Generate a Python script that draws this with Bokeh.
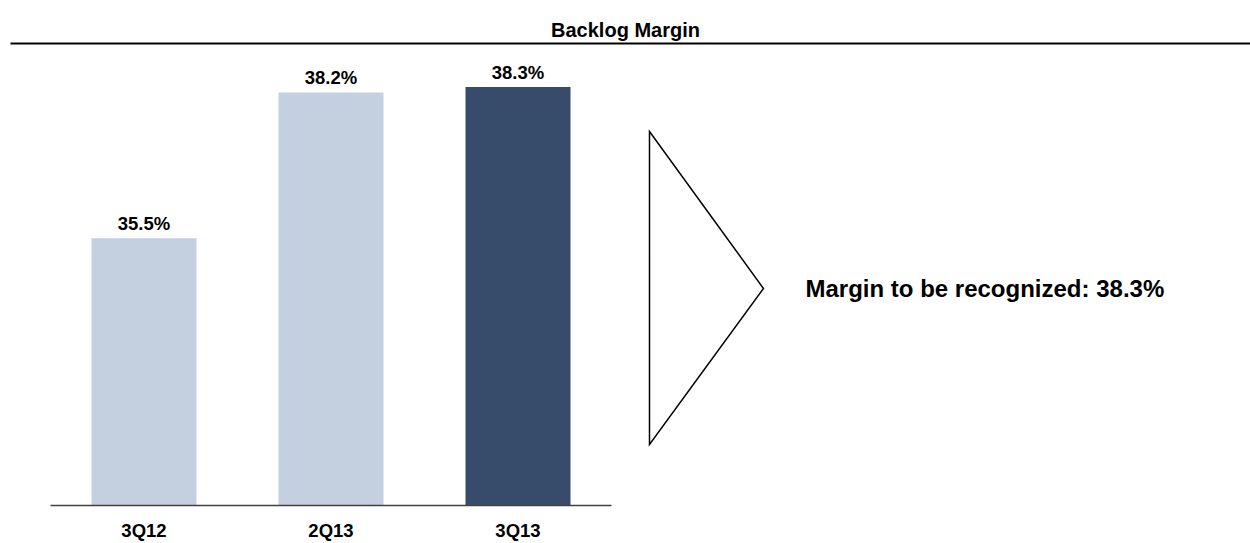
from bokeh.plotting import figure
from bokeh.models import Range1d, ColumnDataSource
from bokeh.core.properties import value
from bokeh.embed import file_html
from bokeh.resources import INLINE

# --- data -------------------------------------------------------------
quarters = ["3Q12", "2Q13", "3Q13"]
backlog_margin = [35.5, 38.2, 38.3]
bar_colors = ["#C4CFE0", "#C4CFE0", "#374C6B"]
title_text = "Backlog Margin"
callout_prefix = "Margin to be recognized: "

# --- canvas geometry ---------------------------------------------------
W, H = 1250, 543
SLOT = 187.0          # pixels per category slot
FIRST = 143.5         # pixel centre of the first category
BASE_PX = 505.0       # pixel row of the bar baseline
PX_PER_PCT = 54.0     # vertical pixels per percentage point
FLOOR = 30.55         # value axis starts here (bars sit on it)

def xu(px):
    return (px - FIRST) / SLOT

def yu(py):
    return FLOOR + (BASE_PX - py) / PX_PER_PCT

FONT = value("Liberation Sans")
LABEL_SIZE = value("18.5px")

p = figure(width=W, height=H, output_backend="svg", toolbar_location=None,
           x_range=Range1d(xu(0), xu(W)), y_range=Range1d(yu(H), yu(0)),
           min_border=0, min_border_left=0, min_border_right=0,
           min_border_top=0, min_border_bottom=0)
p.axis.visible = False
p.grid.visible = False
p.outline_line_color = None
p.background_fill_color = "white"
p.border_fill_color = "white"

idx = list(range(len(quarters)))
src = ColumnDataSource(dict(
    x=idx, top=backlog_margin, color=bar_colors, q=quarters,
    label=[f"{v:.1f}%" for v in backlog_margin],
    base=[FLOOR] * len(quarters),
))

# bars
p.vbar(x="x", top="top", bottom=FLOOR, width=105 / SLOT, color="color",
       line_color=None, source=src)

# baseline under the bars
p.segment(x0=[-0.5], y0=[FLOOR], x1=[len(quarters) - 0.5], y1=[FLOOR],
          line_color="#404040", line_width=1.5)

# value labels above bars
p.text(x="x", y="top", text="label", source=src, y_offset=-15,
       text_align="center", text_baseline="middle",
       text_font=FONT, text_font_size=LABEL_SIZE, text_font_style="bold",
       text_color="black")

# category labels below the baseline
p.text(x="x", y="base", text="q", source=src, y_offset=25,
       text_align="center", text_baseline="middle",
       text_font=FONT, text_font_size=LABEL_SIZE, text_font_style="bold",
       text_color="black")

# title and rule
p.text(x=[xu(W / 2)], y=[yu(29)], text=[title_text],
       text_align="center", text_baseline="middle",
       text_font=FONT, text_font_size=value("20px"), text_font_style="bold",
       text_color="black")
p.segment(x0=[xu(10)], y0=[yu(43)], x1=[xu(W)], y1=[yu(43)],
          line_color="black", line_width=2.2)

# callout arrow
p.patch(x=[xu(649), xu(763), xu(649)], y=[yu(131), yu(288), yu(444)],
        fill_color="white", line_color="black", line_width=1.5,
        line_join="miter")

p.text(x=[xu(805)], y=[yu(288)],
       text=[f"{callout_prefix}{backlog_margin[-1]:.1f}%"],
       text_align="left", text_baseline="middle",
       text_font=FONT, text_font_size=value("24px"), text_font_style="bold",
       text_color="black")

open("out.html", "w").write(file_html(p, INLINE))
